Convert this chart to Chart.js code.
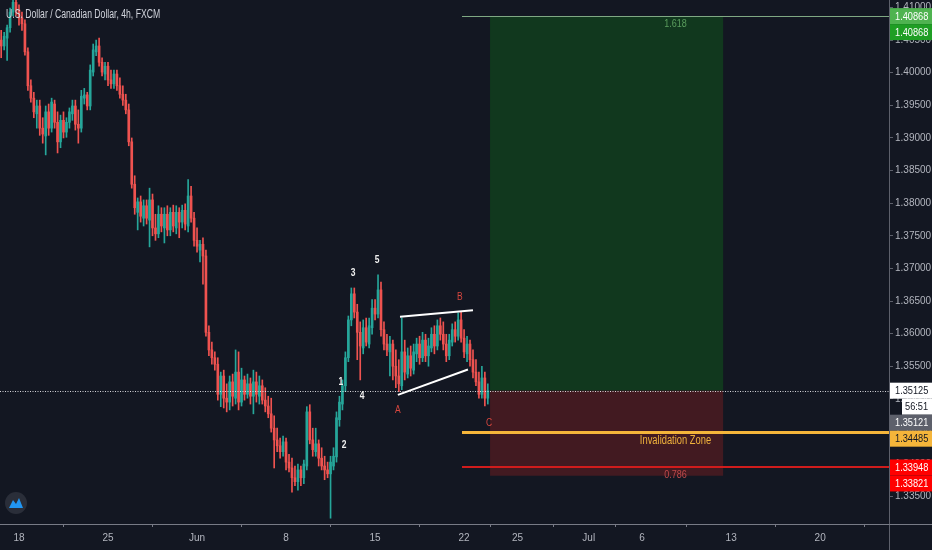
<!DOCTYPE html>
<html><head><meta charset="utf-8">
<script src="https://cdn.jsdelivr.net/npm/chart.js@4.4.1/dist/chart.umd.min.js"></script>
<style>
html,body{margin:0;padding:0;background:#131722;overflow:hidden;}
#wrap{width:932px;height:550px;position:relative;}
</style></head><body>
<div id="wrap"><canvas id="c"></canvas></div>
<script>
// ---- data (USD/CAD 4h, FXCM) ----
const firstCandleIndex = -6; // Friday 15 May candles before Monday 18 May
const opens = [
1.4050,1.4041,1.4053,1.4069,1.4093,1.4108,
1.4096,1.4084,1.4075,1.4032,1.3980,1.3961,1.3937,1.3949,1.3915,1.3903,
1.3940,1.3915,1.3952,1.3924,1.3894,1.3927,1.3909,1.3924,1.3937,1.3949,
1.3921,1.3915,1.3961,1.3966,1.3949,1.4001,1.4032,1.4041,1.4016,1.3998,
1.4010,1.3989,1.3983,1.3998,1.3980,1.3967,1.3958,1.3943,1.3894,1.3829,
1.3786,1.3802,1.3777,1.3796,1.3774,1.3805,1.3762,1.3753,1.3783,1.3762,
1.3783,1.3759,1.3786,1.3762,1.3786,1.3771,1.3789,1.3765,1.3811,1.3777,
1.3743,1.3728,1.3737,1.3719,1.3602,1.3575,1.3563,1.3553,1.3507,1.3535,
1.3501,1.3495,1.3526,1.3501,1.3541,1.3495,1.3529,1.3507,1.3523,1.3504,
1.3526,1.3504,1.3520,1.3498,1.3489,1.3477,1.3455,1.3437,1.3428,1.3419,
1.3434,1.3403,1.3394,1.3379,1.3373,1.3391,1.3379,1.3397,1.3480,1.3437,
1.3419,1.3431,1.3409,1.3397,1.3391,1.3385,1.3397,1.3411,1.3468,1.3492,
1.3520,1.3563,1.3621,1.3661,1.3633,1.3602,1.3578,1.3609,1.3584,1.3609,
1.3639,1.3630,1.3667,1.3606,1.3584,1.3572,1.3584,1.3550,1.3535,1.3520,
1.3572,1.3538,1.3566,1.3544,1.3569,1.3584,1.3563,1.3590,1.3566,1.3578,
1.3599,1.3581,1.3612,1.3599,1.3584,1.3566,1.3587,1.3606,1.3596,1.3621,
1.3593,1.3569,1.3584,1.3560,1.3541,1.3526,1.3507,1.3532,1.3501];
const highs = [
1.4065,1.4062,1.4073,1.4099,1.4119,1.4124,
1.4104,1.4093,1.4081,1.4038,1.3989,1.3970,1.3958,1.3958,1.3931,1.3949,
1.3952,1.3961,1.3958,1.3940,1.3935,1.3940,1.3931,1.3946,1.3958,1.3958,
1.3943,1.3973,1.3976,1.3970,1.4012,1.4044,1.4050,1.4053,1.4023,1.4016,
1.4016,1.4004,1.4004,1.4004,1.3992,1.3980,1.3967,1.3952,1.3900,1.3842,
1.3808,1.3811,1.3805,1.3805,1.3823,1.3814,1.3783,1.3796,1.3793,1.3793,
1.3796,1.3793,1.3797,1.3796,1.3793,1.3797,1.3799,1.3836,1.3826,1.3786,
1.3762,1.3743,1.3747,1.3728,1.3612,1.3587,1.3572,1.3563,1.3541,1.3544,
1.3523,1.3535,1.3538,1.3575,1.3572,1.3547,1.3535,1.3538,1.3532,1.3544,
1.3541,1.3535,1.3529,1.3517,1.3504,1.3501,1.3474,1.3455,1.3440,1.3443,
1.3440,1.3415,1.3409,1.3397,1.3400,1.3397,1.3406,1.3488,1.3491,1.3455,
1.3455,1.3437,1.3425,1.3412,1.3403,1.3412,1.3425,1.3480,1.3504,1.3529,
1.3572,1.3627,1.3670,1.3670,1.3645,1.3618,1.3621,1.3624,1.3624,1.3652,
1.3652,1.3690,1.3679,1.3618,1.3599,1.3596,1.3590,1.3575,1.3560,1.3624,
1.3590,1.3578,1.3581,1.3584,1.3593,1.3596,1.3602,1.3599,1.3593,1.3609,
1.3612,1.3621,1.3624,1.3618,1.3599,1.3599,1.3615,1.3618,1.3632,1.3633,
1.3606,1.3596,1.3590,1.3575,1.3560,1.3541,1.3550,1.3541,1.3523];
const lows = [
1.4023,1.4035,1.4019,1.4062,1.4087,1.4088,
1.4073,1.4065,1.4027,1.3973,1.3955,1.3931,1.3915,1.3904,1.3892,1.3874,
1.3904,1.3909,1.3915,1.3877,1.3885,1.3900,1.3901,1.3915,1.3927,1.3912,
1.3892,1.3909,1.3952,1.3943,1.3943,1.3995,1.4026,1.4010,1.3995,1.3989,
1.3980,1.3976,1.3976,1.3973,1.3961,1.3950,1.3937,1.3888,1.3823,1.3783,
1.3759,1.3771,1.3765,1.3768,1.3733,1.3750,1.3743,1.3747,1.3756,1.3739,
1.3750,1.3750,1.3756,1.3753,1.3747,1.3762,1.3759,1.3756,1.3771,1.3734,
1.3725,1.3710,1.3676,1.3596,1.3566,1.3553,1.3544,1.3498,1.3488,1.3486,
1.3480,1.3483,1.3489,1.3492,1.3483,1.3489,1.3498,1.3501,1.3492,1.3477,
1.3495,1.3492,1.3492,1.3480,1.3471,1.3449,1.3394,1.3419,1.3409,1.3412,
1.3391,1.3388,1.3357,1.3367,1.3360,1.3367,1.3370,1.3391,1.3431,1.3412,
1.3412,1.3397,1.3391,1.3376,1.3379,1.3317,1.3391,1.3403,1.3458,1.3483,
1.3511,1.3557,1.3612,1.3624,1.3560,1.3529,1.3569,1.3581,1.3578,1.3599,
1.3621,1.3624,1.3596,1.3575,1.3566,1.3535,1.3529,1.3517,1.3511,1.3514,
1.3529,1.3532,1.3535,1.3538,1.3557,1.3553,1.3557,1.3557,1.3550,1.3572,
1.3569,1.3575,1.3590,1.3575,1.3557,1.3560,1.3581,1.3587,1.3590,1.3587,
1.3563,1.3557,1.3550,1.3532,1.3520,1.3501,1.3501,1.3489,1.3492];
const closes = [
1.4041,1.4056,1.4069,1.4093,1.4108,1.4096,
1.4084,1.4075,1.4032,1.3980,1.3961,1.3940,1.3949,1.3915,1.3906,1.3940,
1.3915,1.3955,1.3924,1.3894,1.3927,1.3909,1.3924,1.3940,1.3949,1.3921,
1.3915,1.3964,1.3966,1.3949,1.4004,1.4035,1.4041,1.4016,1.4001,1.4010,
1.3989,1.3983,1.3998,1.3980,1.3967,1.3958,1.3943,1.3894,1.3829,1.3793,
1.3802,1.3780,1.3796,1.3777,1.3805,1.3762,1.3753,1.3783,1.3765,1.3783,
1.3759,1.3786,1.3765,1.3786,1.3771,1.3789,1.3768,1.3811,1.3777,1.3743,
1.3734,1.3737,1.3719,1.3602,1.3575,1.3563,1.3553,1.3507,1.3535,1.3501,
1.3495,1.3526,1.3504,1.3541,1.3495,1.3529,1.3507,1.3523,1.3504,1.3526,
1.3507,1.3520,1.3498,1.3489,1.3477,1.3455,1.3437,1.3428,1.3419,1.3434,
1.3403,1.3394,1.3379,1.3373,1.3391,1.3379,1.3400,1.3480,1.3437,1.3422,
1.3431,1.3409,1.3397,1.3391,1.3385,1.3403,1.3412,1.3471,1.3495,1.3520,
1.3563,1.3621,1.3661,1.3633,1.3602,1.3581,1.3609,1.3587,1.3612,1.3639,
1.3630,1.3667,1.3606,1.3584,1.3575,1.3584,1.3550,1.3535,1.3523,1.3572,
1.3541,1.3566,1.3547,1.3572,1.3584,1.3563,1.3590,1.3566,1.3581,1.3599,
1.3581,1.3612,1.3599,1.3584,1.3566,1.3590,1.3606,1.3596,1.3621,1.3593,
1.3572,1.3584,1.3560,1.3541,1.3526,1.3507,1.3532,1.3501,1.35125];

const timeTickIndex  = [0, 30, 60, 90, 120, 150, 168, 192, 210, 240, 270];
const timeTickLabels = ['18','25','Jun','8','15','22','25','Jul','6','13','20'];
const priceTicks = [1.335,1.34,1.345,1.35,1.355,1.36,1.365,1.37,1.375,1.38,1.385,1.39,1.395,1.40,1.405,1.41];
const priceMin = 1.33081, priceMax = 1.41115;
const indexMin = -6.4, indexMax = 293.2;

// position tool / fib levels
const fibTarget = 1.40868;      // 1.618
const invalidation = 1.34485;   // Invalidation Zone
const fib786 = 1.33948;         // 0.786
const stopPrice = 1.33821;
const entryPrice = 1.35125;
const currentPrice = closes[closes.length - 1];
const secondPrice = 1.35121;
const countdown = '56:51';
const boxStartIdx = 158.75, boxEndIdx = 237.3, levelStartIdx = 149.3;
const upperTrend = [[128.4, 1.3626], [153.0, 1.3636]];
const lowerTrend = [[127.7, 1.3506], [151.3, 1.3545]];
const waveText  = ['1','2','3','4','5','A','B','C'];
const waveIdx   = [108.5, 109.6, 112.6, 115.6, 120.7, 127.7, 148.6, 158.4];
const wavePrice = [1.3526, 1.3429, 1.3693, 1.3504, 1.3713, 1.3483, 1.3656, 1.3463];
const title = 'U.S. Dollar / Canadian Dollar, 4h, FXCM';

// ---- styles ----
const UP = '#26a69a', DOWN = '#ef5350';
const BG = '#131722', AXIS = '#5d606b', TXT = '#b2b5be';
const SANS = "'Liberation Sans','DejaVu Sans',sans-serif";

const idx = opens.map((_, k) => firstCandleIndex + k);
const wickData = idx.map((x, k) => ({x, y: [lows[k], highs[k]]}));
const bodyData = idx.map((x, k) => ({x, y: [opens[k], closes[k]]}));
const candleColor = ctx => (ctx.dataIndex !== undefined && closes[ctx.dataIndex] >= opens[ctx.dataIndex]) ? UP : DOWN;

function narrowText(ctx, text, x, y, sx) {
  ctx.save(); ctx.translate(x, y); ctx.scale(sx, 1); ctx.fillText(text, 0, 0); ctx.restore();
}

const overlay = {
  id: 'overlay',
  beforeDraw(chart) {
    const {ctx, width, height} = chart;
    ctx.save(); ctx.fillStyle = BG; ctx.fillRect(0, 0, width, height); ctx.restore();
  },
  beforeDatasetsDraw(chart) {
    const {ctx, chartArea: a, scales: {x, y}} = chart;
    ctx.save();
    ctx.beginPath(); ctx.rect(a.left, a.top, a.right - a.left, a.bottom - a.top); ctx.clip();
    const bx0 = x.getPixelForValue(boxStartIdx), bx1 = x.getPixelForValue(boxEndIdx);
    const yT = y.getPixelForValue(fibTarget), yE = y.getPixelForValue(entryPrice), yS = y.getPixelForValue(stopPrice);
    ctx.fillStyle = '#11381e'; ctx.fillRect(bx0, yT, bx1 - bx0, yE - yT);
    ctx.fillStyle = '#421a21'; ctx.fillRect(bx0, yE, bx1 - bx0, yS - yE);
    ctx.restore();
  },
  afterDatasetsDraw(chart) {
    const {ctx, chartArea: a, scales: {x, y}} = chart;
    ctx.save();
    ctx.beginPath(); ctx.rect(a.left, a.top, a.right - a.left, a.bottom - a.top); ctx.clip();
    const lx0 = x.getPixelForValue(levelStartIdx), lx1 = a.right, cx = (lx0 + lx1) / 2;
    const hline = (p, color, w, x0, x1, dash) => {
      const yy = Math.round(y.getPixelForValue(p)) + (w % 2 ? 0.5 : 0);
      ctx.beginPath(); ctx.strokeStyle = color; ctx.lineWidth = w;
      ctx.setLineDash(dash || []);
      ctx.moveTo(x0, yy); ctx.lineTo(x1, yy); ctx.stroke();
      ctx.setLineDash([]);
      return yy;
    };
    hline(currentPrice, 'rgba(235,235,240,0.9)', 1, a.left, a.right, [1, 1.5]);
    const yTop = hline(fibTarget, '#7fa883', 1, lx0, lx1);
    const yRed = hline(fib786, '#d01c1c', 2, lx0, lx1);
    const yOr = hline(invalidation, '#f5b53a', 3, lx0, lx1);
    ctx.strokeStyle = '#ffffff'; ctx.lineWidth = 2;
    [upperTrend, lowerTrend].forEach(t => {
      ctx.beginPath();
      ctx.moveTo(x.getPixelForValue(t[0][0]), y.getPixelForValue(t[0][1]));
      ctx.lineTo(x.getPixelForValue(t[1][0]), y.getPixelForValue(t[1][1]));
      ctx.stroke();
    });
    ctx.textAlign = 'center'; ctx.textBaseline = 'middle';
    ctx.font = "11px " + SANS;
    ctx.fillStyle = '#5b9e5e'; narrowText(ctx, '1.618', cx, yTop + 7.5, 0.82);
    ctx.fillStyle = '#c04a4b'; narrowText(ctx, '0.786', cx, yRed + 8, 0.82);
    ctx.font = "12px " + SANS;
    ctx.fillStyle = '#f0b23c'; narrowText(ctx, 'Invalidation Zone', cx, yOr + 8, 0.78);
    waveText.forEach((t, k) => {
      const red = /[ABC]/.test(t);
      ctx.font = (red ? '' : 'bold ') + "10px " + SANS;
      ctx.fillStyle = red ? '#d8473f' : '#f0f0f0';
      narrowText(ctx, t, x.getPixelForValue(waveIdx[k]), y.getPixelForValue(wavePrice[k]), 0.85);
    });
    ctx.restore();
  },
  afterDraw(chart) {
    const {ctx, chartArea: a, scales: {y}, width, height} = chart;
    ctx.save();
    ctx.strokeStyle = AXIS; ctx.lineWidth = 1;
    ctx.beginPath(); ctx.moveTo(Math.round(a.right) + 0.5, 0); ctx.lineTo(Math.round(a.right) + 0.5, height); ctx.stroke();
    ctx.strokeStyle = '#787b86';
    ctx.beginPath(); ctx.moveTo(0, Math.round(a.bottom) + 0.5); ctx.lineTo(width, Math.round(a.bottom) + 0.5); ctx.stroke();
    const labels = [
      {p: fibTarget, t: fibTarget.toFixed(5), bg: '#4fb350', fg: '#ffffff', h: 16},
      {p: fibTarget, t: fibTarget.toFixed(5), bg: '#1f9e24', fg: '#ffffff', h: 16},
      {p: currentPrice, t: currentPrice.toFixed(5), bg: '#ffffff', fg: '#131722', h: 16},
      {p: currentPrice, t: countdown, bg: '#ffffff', fg: '#131722', h: 16, narrow: true, follow: true},
      {p: secondPrice, t: secondPrice.toFixed(5), bg: '#5d606b', fg: '#ffffff', h: 16},
      {p: invalidation, t: invalidation.toFixed(5), bg: '#f5b53a', fg: '#131722', h: 16},
      {p: fib786, t: fib786.toFixed(5), bg: '#ff0000', fg: '#ffffff', h: 16},
      {p: stopPrice, t: stopPrice.toFixed(5), bg: '#ff0000', fg: '#ffffff', h: 16},
    ];
    let prevBottom = -1e9;
    ctx.font = "11px " + SANS; ctx.textBaseline = 'middle'; ctx.textAlign = 'left';
    labels.forEach(L => {
      const yc = y.getPixelForValue(L.p);
      const top = L.follow ? prevBottom : Math.max(yc - L.h / 2, prevBottom);
      const x0 = L.narrow ? a.right + 13 : a.right + 1;
      ctx.fillStyle = L.bg; ctx.fillRect(x0, top, width - x0, L.h);
      ctx.fillStyle = L.fg;
      narrowText(ctx, L.t, L.narrow ? x0 + 3 : a.right + 6, top + L.h / 2 + 0.5, 0.84);
      prevBottom = top + L.h;
    });
    ctx.font = "12px " + SANS; ctx.fillStyle = '#d1d4dc'; ctx.textAlign = 'left';
    narrowText(ctx, title, 6, 15, 0.72);
    ctx.fillStyle = '#2a2e39';
    ctx.beginPath(); ctx.arc(16, 503, 11, 0, Math.PI * 2); ctx.fill();
    ctx.fillStyle = '#2196f3';
    ctx.beginPath();
    ctx.moveTo(9, 508); ctx.lineTo(13, 500); ctx.lineTo(16, 504); ctx.lineTo(19, 498); ctx.lineTo(23, 508); ctx.closePath(); ctx.fill();
    ctx.restore();
  }
};

new Chart(document.getElementById('c'), {
  type: 'bar',
  data: { datasets: [
    {data: wickData, backgroundColor: candleColor, barThickness: 1, grouped: false, borderWidth: 0},
    {data: bodyData, backgroundColor: candleColor, barThickness: 2, minBarLength: 1, grouped: false, borderWidth: 0}
  ]},
  options: {
    responsive: true, maintainAspectRatio: false, animation: false,
    layout: {padding: 0},
    plugins: {legend: {display: false}, tooltip: {enabled: false}, title: {display: false}},
    scales: {
      x: {
        type: 'linear', min: indexMin, max: indexMax, offset: false,
        grid: {display: true, drawOnChartArea: false, drawTicks: true, tickLength: 3, color: '#787b86'},
        border: {display: false},
        afterBuildTicks: s => { s.ticks = timeTickIndex.map(v => ({value: v})); },
        ticks: {autoSkip: false, maxRotation: 0, minRotation: 0, padding: 5, color: TXT,
                font: {family: SANS, size: 10},
                callback: v => { const k = timeTickIndex.indexOf(v); return k >= 0 ? timeTickLabels[k] : ''; }},
        afterFit: s => { s.height = 26; s.paddingLeft = 0; s.paddingRight = 0; }
      },
      y: {
        type: 'linear', position: 'right', min: priceMin, max: priceMax,
        grid: {display: true, drawOnChartArea: false, drawTicks: true, tickLength: 4, color: AXIS},
        border: {display: false},
        afterBuildTicks: s => { s.ticks = priceTicks.map(v => ({value: v})); },
        ticks: {padding: 2, color: TXT, font: {family: SANS, size: 10}, callback: v => Number(v).toFixed(5)},
        afterFit: s => { s.width = 43; s.paddingTop = 0; s.paddingBottom = 0; }
      }
    }
  },
  plugins: [overlay]
});
</script>
</body></html>
